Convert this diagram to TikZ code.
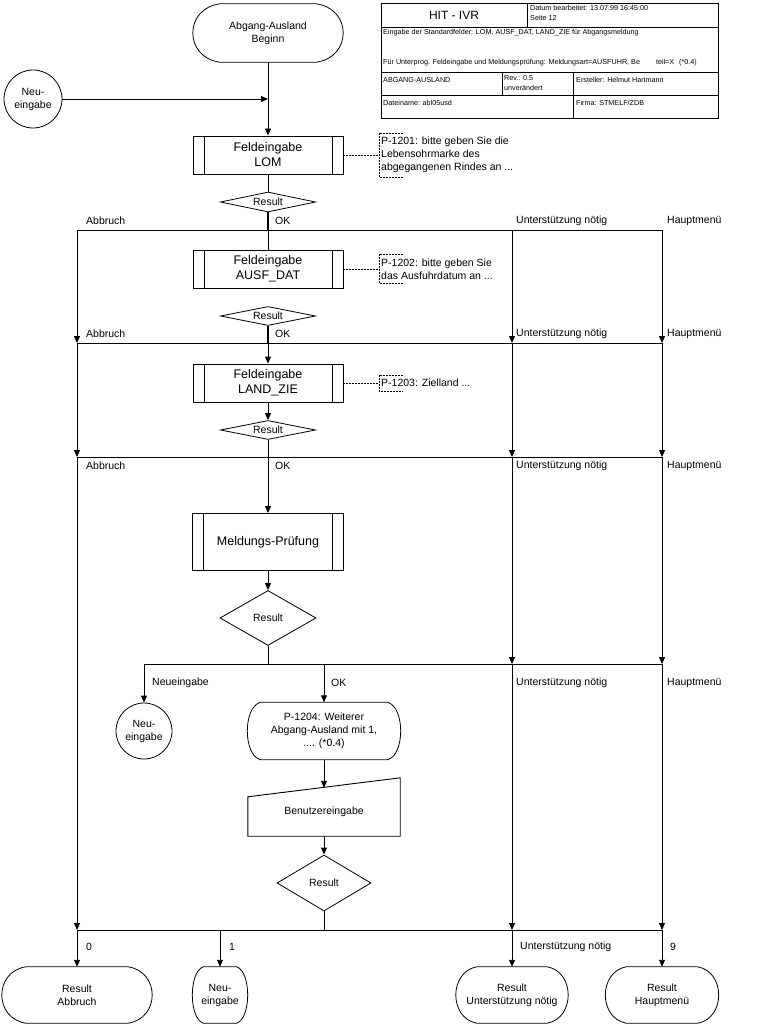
\documentclass[tikz,border=0pt]{standalone}
\usepackage{fontspec}
\setmainfont{Liberation Sans}
\usetikzlibrary{arrows.meta,shapes.geometric,positioning}

\tikzset{
  flow/.style={line width=0.9pt},
  okline/.style={line width=2pt},
  lbl/.style={inner sep=1pt, font=\fontsize{10.5}{13}\selectfont},
  headtxt/.style={inner sep=0pt, align=left, font=\fontsize{7.2}{10.5}\selectfont},
  subproc/.style={draw, line width=0.9pt, minimum width=150pt, minimum height=38pt,
    align=center, font=\fontsize{12.5}{15}\selectfont,
    path picture={\draw[line width=0.9pt]
      ([xshift=11pt]path picture bounding box.north west) -- ([xshift=11pt]path picture bounding box.south west)
      ([xshift=-11pt]path picture bounding box.north east) -- ([xshift=-11pt]path picture bounding box.south east);}},
  decision/.style={draw, diamond, line width=0.8pt, inner sep=0pt, font=\fontsize{10.5}{13}\selectfont},
  terminal/.style={inner sep=0pt, minimum height=56pt, align=center, font=\fontsize{10.5}{13}\selectfont},
  connector/.style={draw, circle, line width=0.8pt, inner sep=0pt, align=center, font=\fontsize{10.5}{13}\selectfont},
  note/.style={anchor=west, inner xsep=2pt, inner ysep=4pt, align=left, font=\fontsize{10.5}{13}\selectfont},
  noteline/.style={line width=0.6pt, dash pattern=on 2pt off 1pt},
}

% Umriss eines Start-/Endsymbols: Knoten, Ausbuchtung
\newcommand{\termoutline}[2]{%
  \draw[line width=0.8pt] ([xshift=#2]#1.north west) -- ([xshift=-#2]#1.north east)
    .. controls ([xshift=#2/3,yshift=-5pt]#1.north east) and ([xshift=#2/3,yshift=5pt]#1.south east) .. ([xshift=-#2]#1.south east)
    -- ([xshift=#2]#1.south west)
    .. controls ([xshift=-#2/3,yshift=5pt]#1.south west) and ([xshift=-#2/3,yshift=-5pt]#1.north west) .. ([xshift=#2]#1.north west);}

\begin{document}
\begin{tikzpicture}[x=1pt,y=-1pt,>={Triangle[width=6pt,length=7pt]}]
  \useasboundingbox (0,0) rectangle (762,1027);

  % Kopfzeile
  \draw[line width=0.8pt] (381,3) rectangle (718,118);
  \draw[line width=0.8pt] (381,27) -- (718,27) (527,3) -- (527,27)
    (381,72) -- (718,72) (381,95) -- (718,95)
    (502,72) -- (502,95) (573,72) -- (573,118);
  \node[font=\fontsize{12}{14}\selectfont] (hit) at (454,15) {HIT - IVR};
  \node[headtxt, anchor=north west] (datum) at (530,5) {Datum bearbeitet: 13.07.99 16:45:00\\Seite 12};
  \node[headtxt, anchor=west] (eing) at (383,33) {Eingabe der Standardfelder: LOM, AUSF\_DAT, LAND\_ZIE für Abgangsmeldung};
  \node[headtxt, anchor=west] (fuer) at (383,63) {Für Unterprog. Feldeingabe und Meldungsprüfung: Meldungsart=AUSFUHR, Be\hspace{16pt}teil=X\hspace{5pt}(*0.4)};
  \node[headtxt, anchor=west] (abg) at (383,80) {ABGANG-AUSLAND};
  \node[headtxt, anchor=north west] (rev) at (504,75) {Rev.: 0.5\\unverändert};
  \node[headtxt, anchor=west] (erst) at (576,80) {Ersteller: Helmut Hartmann};
  \node[headtxt, anchor=west] (datei) at (383,103) {Dateiname: abl05usd};
  \node[headtxt, anchor=west] (firma) at (576,103) {Firma: STMELF/ZDB};

  % Start
  \node[terminal, minimum width=150pt, minimum height=58pt] (beginn) at (268,33) {Abgang-Ausland\\Beginn};
  \termoutline{beginn}{27pt}
  \node[connector, minimum size=58pt] (neu1) at (33,99) {Neu-\\eingabe};
  \coordinate (j0) at (268,99);
  \draw[flow,->] (neu1) -- (j0);

  % Feldeingabe LOM
  \node[subproc] (lom) at (268,155) {Feldeingabe\\LOM};
  \node[note] (n1) at (379,155) {P-1201: bitte geben Sie die\\Lebensohrmarke des\\abgegangenen Rindes an ...};
  \node[decision, aspect=4.75, minimum width=95pt, minimum height=20pt] (d1) at (268,202) {Result};
  \draw[flow,->] (beginn) -- (lom);
  \draw[flow] (lom) -- (d1);

  \coordinate (a1) at (77,230);
  \coordinate (m1) at (268,230);
  \coordinate (u1) at (512,230);
  \coordinate (h1) at (662,230);
  \draw[flow] (a1) -- (h1);
  \draw[okline] (d1) -- (m1);
  \node[lbl, anchor=west] (la1) at (85,221) {Abbruch};
  \node[lbl, anchor=west] (lo1) at (274,221) {OK};
  \node[lbl, anchor=west] (lu1) at (515,221) {Unterstützung nötig};
  \node[lbl, anchor=west] (lh1) at (666,221) {Hauptmenü};

  % Feldeingabe AUSF_DAT
  \node[subproc] (ausf) at (268,269) {Feldeingabe\\AUSF\_DAT};
  \node[note] (n2) at (379,269) {P-1202: bitte geben Sie\\das Ausfuhrdatum an ...};
  \node[decision, aspect=5, minimum width=95pt, minimum height=19pt] (d2) at (268,316) {Result};
  \draw[flow] (m1) -- (ausf);

  \coordinate (a2) at (77,343);
  \coordinate (m2) at (268,343);
  \coordinate (u2) at (512,343);
  \coordinate (h2) at (662,343);
  \draw[flow] (a2) -- (h2);
  \draw[okline] (d2) -- (m2);
  \draw[flow,->] (a1) -- (a2);
  \draw[flow,->] (u1) -- (u2);
  \draw[flow,->] (h1) -- (h2);
  \node[lbl, anchor=west] (la2) at (85,334) {Abbruch};
  \node[lbl, anchor=west] (lo2) at (274,334) {OK};
  \node[lbl, anchor=west] (lu2) at (515,334) {Unterstützung nötig};
  \node[lbl, anchor=west] (lh2) at (666,334) {Hauptmenü};

  % Feldeingabe LAND_ZIE
  \node[subproc] (land) at (268,383) {Feldeingabe\\LAND\_ZIE};
  \node[note] (n3) at (379,383) {P-1203: Zielland ...};
  \node[decision, aspect=5, minimum width=95pt, minimum height=19pt] (d3) at (268,430) {Result};
  \draw[flow,->] (m2) -- (land);
  \draw[flow,->] (land) -- (d3);

  \coordinate (a3) at (77,457);
  \coordinate (m3) at (268,457);
  \coordinate (u3) at (512,457);
  \coordinate (h3) at (662,457);
  \draw[flow] (a3) -- (h3);
  \draw[flow] (d3) -- (m3);
  \draw[flow,->] (a2) -- (a3);
  \draw[flow,->] (u2) -- (u3);
  \draw[flow,->] (h2) -- (h3);
  \node[lbl, anchor=west] (la3) at (85,466) {Abbruch};
  \node[lbl, anchor=west] (lo3) at (274,466) {OK};
  \node[lbl, anchor=west] (lu3) at (515,466) {Unterstützung nötig};
  \node[lbl, anchor=west] (lh3) at (666,466) {Hauptmenü};

  % Kommentare
  \draw[noteline] (lom) -- (n1);
  \draw[noteline] (ausf) -- (n2);
  \draw[noteline] (land) -- (n3);
  \foreach \n in {n1,n2,n3}
    \draw[noteline] ([xshift=24pt]\n.north west) -- (\n.north west) -- (\n.south west) -- ([xshift=24pt]\n.south west);

  % Meldungs-Pruefung
  \node[subproc, minimum width=151pt, minimum height=57pt] (pruef) at (268,542) {Meldungs-Prüfung};
  \node[decision, aspect=1.75, minimum width=96pt, minimum height=55pt] (d4) at (268,618) {Result};
  \draw[flow,->] (m3) -- (pruef);
  \draw[flow,->] (pruef) -- (d4);

  \coordinate (n4) at (144,664);
  \coordinate (m4) at (268,664);
  \coordinate (o4) at (324,664);
  \coordinate (u4) at (512,664);
  \coordinate (h4) at (662,664);
  \draw[flow] (n4) -- (h4);
  \draw[flow] (d4) -- (m4);
  \draw[flow,->] (u3) -- (u4);
  \draw[flow,->] (h3) -- (h4);
  \node[lbl, anchor=west] (ln4) at (151,683) {Neueingabe};
  \node[lbl, anchor=west] (lo4) at (330,683) {OK};
  \node[lbl, anchor=west] (lu4) at (515,683) {Unterstützung nötig};
  \node[lbl, anchor=west] (lh4) at (666,683) {Hauptmenü};

  % Weiterer Abgang
  \node[connector, minimum size=56pt] (neu2) at (144,731) {Neu-\\eingabe};
  \node[terminal, minimum width=153pt, minimum height=57pt] (p1204) at (324,731) {P-1204: Weiterer\\Abgang-Ausland mit 1,\\.... (*0.4)};
  \termoutline{p1204}{13pt}
  \draw[flow,->] (n4) -- (neu2);
  \draw[flow,->] (o4) -- (p1204);

  \node[minimum width=152pt, minimum height=48pt, inner sep=0pt, font=\fontsize{10.5}{13}\selectfont] (benutzer) at (324,812) {Benutzereingabe};
  \draw[flow] ([yshift=-9pt]benutzer.north west) -- ([yshift=10pt]benutzer.north east)
    -- (benutzer.south east) -- (benutzer.south west) -- cycle;
  \draw[flow,->] (p1204) -- (benutzer.north);

  \node[decision, aspect=1.7, minimum width=94pt, minimum height=56pt] (d5) at (324,883) {Result};
  \draw[flow,->] (benutzer.south) -- (d5);

  \coordinate (a5) at (77,930);
  \coordinate (n5) at (220,930);
  \coordinate (m5) at (324,930);
  \coordinate (u5) at (512,930);
  \coordinate (h5) at (662,930);
  \draw[flow] (a5) -- (h5);
  \draw[flow] (d5) -- (m5);
  \draw[flow,->] (a3) -- (a5);
  \draw[flow,->] (u4) -- (u5);
  \draw[flow,->] (h4) -- (h5);
  \node[lbl, anchor=west] (l0) at (85,947) {0};
  \node[lbl, anchor=west] (l1) at (228,947) {1};
  \node[lbl, anchor=west] (lu5) at (519,947) {Unterstützung nötig};
  \node[lbl, anchor=west] (l9) at (669,947) {9};

  % Ergebnisse
  \node[terminal, minimum width=150pt] (abbr) at (77,995) {Result\\Abbruch};
  \node[terminal, minimum width=55pt] (neu3) at (220,995) {Neu-\\eingabe};
  \node[terminal, minimum width=112pt] (unterst) at (512,995) {Result\\Unterstützung nötig};
  \node[terminal, minimum width=113pt] (haupt) at (662,995) {Result\\Hauptmenü};
  \termoutline{abbr}{24pt}
  \termoutline{neu3}{11pt}
  \termoutline{unterst}{21pt}
  \termoutline{haupt}{21pt}
  \draw[flow,->] (a5) -- (abbr);
  \draw[flow,->] (n5) -- (neu3);
  \draw[flow,->] (u5) -- (unterst);
  \draw[flow,->] (h5) -- (haupt);
\end{tikzpicture}
\end{document}
